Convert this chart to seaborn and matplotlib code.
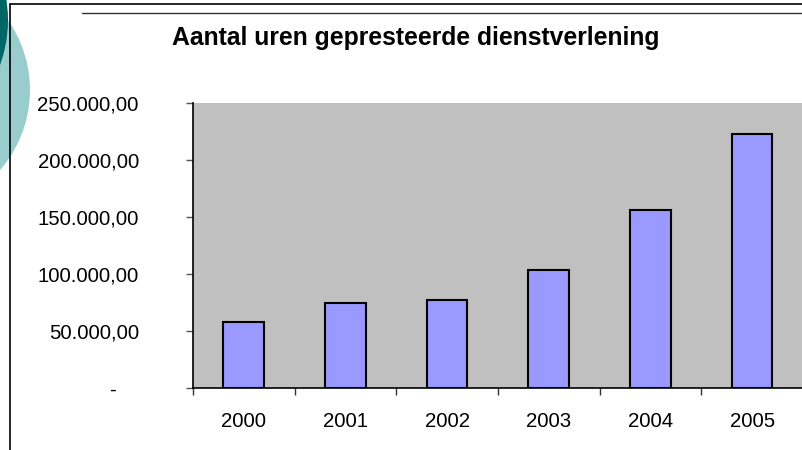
import matplotlib
matplotlib.use("Agg")
import matplotlib.pyplot as plt
import seaborn as sns
import pandas as pd
from matplotlib.patches import Circle
from matplotlib.lines import Line2D
from matplotlib.transforms import IdentityTransform, ScaledTranslation
from matplotlib.ticker import FixedLocator

years = ["2000", "2001", "2002", "2003", "2004", "2005"]
hours = [58000, 74500, 77200, 103500, 156000, 223000]
yticks = [0, 50000, 100000, 150000, 200000, 250000]
ytick_labels = ["-", "50.000,00", "100.000,00", "150.000,00", "200.000,00", "250.000,00"]
title = "Aantal uren gepresteerde dienstverlening"

sns.set_theme(style="white")
plt.rcParams["font.family"] = ["Liberation Sans", "DejaVu Sans"]

W, H = 803, 450
fig = plt.figure(figsize=(W / 100, H / 100), dpi=100)
fig.patch.set_facecolor("white")

# decorative circles (pixel coords, origin bottom-left)
light = Circle((-92, H - 90), 122, facecolor="#99CCCC", edgecolor="none",
               transform=IdentityTransform(), zorder=0)
dark = Circle((-123, H - 20), 131, facecolor="#006666", edgecolor="none",
              transform=IdentityTransform(), zorder=1)
fig.patches.extend([light, dark])

# frame lines
fig.lines.append(Line2D([10, 10], [H - 4, 0], color="black", lw=1.2,
                        transform=IdentityTransform(), zorder=2))
fig.lines.append(Line2D([10, W], [H - 4, H - 4], color="black", lw=1.2,
                        transform=IdentityTransform(), zorder=2))
fig.lines.append(Line2D([82, W], [H - 13, H - 13], color="#333333", lw=1.0,
                        transform=IdentityTransform(), zorder=2))

ax = fig.add_axes([193 / W, 1 - 388 / H, (W - 193) / W, (388 - 103) / H])
ax.set_facecolor("#C0C0C0")

df = pd.DataFrame({"year": years, "hours": hours})
sns.barplot(data=df, x="year", y="hours", color="#9999FF", saturation=1,
            edgecolor="black", linewidth=1.5, width=0.4, ax=ax, zorder=3)

ax.set_xlim(-0.5, 5.5)
ax.set_ylim(0, 250000)
ax.set_xlabel("")
ax.set_ylabel("")

for s in ["top", "right"]:
    ax.spines[s].set_visible(False)
for s in ["left", "bottom"]:
    ax.spines[s].set_visible(True)
    ax.spines[s].set_color("black")
    ax.spines[s].set_linewidth(1.2)

ax.set_yticks(yticks)
ax.set_yticklabels(ytick_labels)
ax.tick_params(axis="y", which="major", direction="out", length=5, width=1,
               color="#555555", pad=34, labelsize=14.7, labelcolor="black", left=True)
ax.xaxis.set_minor_locator(FixedLocator([-0.5, 0.5, 1.5, 2.5, 3.5, 4.5, 5.5]))
ax.tick_params(axis="x", which="major", length=0, pad=17, labelsize=14.7,
               labelcolor="black", bottom=True)
ax.tick_params(axis="x", which="minor", direction="out", length=5, width=1,
               color="#333333", bottom=True)

# shift the "-" label for zero like Excel accounting format
zero_lab = ax.get_yticklabels()[0]
zero_lab.set_transform(zero_lab.get_transform() + ScaledTranslation(-23 / 100, 0, fig.dpi_scale_trans))

fig.text(416 / W, 1 - 38 / H, title, ha="center", va="center",
         fontsize=17.8, fontweight="bold", color="black")

fig.savefig("out.png", dpi=100)
